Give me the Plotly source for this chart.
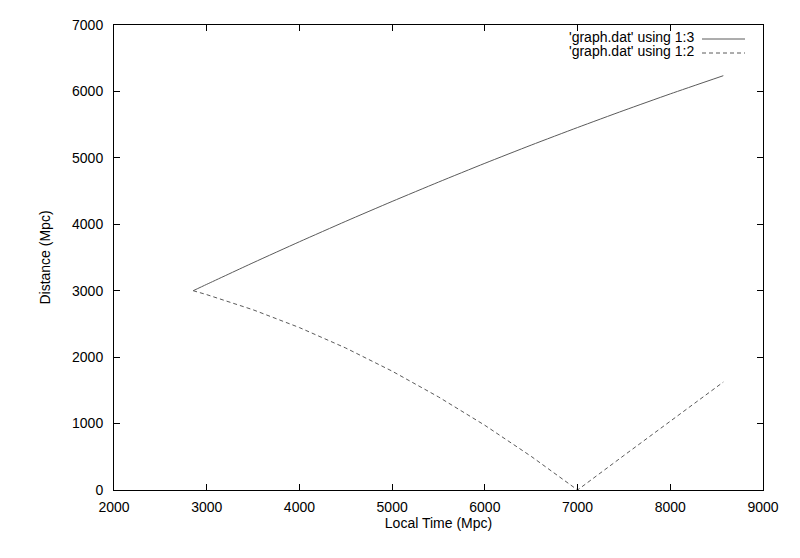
import plotly.graph_objects as go

# Local time (Mpc) sample points
local_time = [2854, 3000, 3500, 4000, 4500, 5000, 5500, 6000, 6500, 7000, 7500, 8000, 8572]
# 'graph.dat' using 1:3 (solid)
dist_col3 = [3000, 3096, 3421, 3737, 4045, 4344, 4635, 4918, 5192, 5457, 5714, 5963, 6237]
# 'graph.dat' using 1:2 (dashed)
dist_col2 = [3000, 2941, 2713, 2445, 2137, 1789, 1401, 974, 506, 0, 520, 1040, 1625]

x_ticks = [2000, 3000, 4000, 5000, 6000, 7000, 8000, 9000]
y_ticks = [0, 1000, 2000, 3000, 4000, 5000, 6000, 7000]
series_names = ["'graph.dat' using 1:3", "'graph.dat' using 1:2"]

FONT = "Liberation Sans, Arial, Helvetica, sans-serif"
LINE_COLOR = "#5a5a5a"

# page has an 8px body margin; plot area should land at x 114..763, y 25..490
L, R, T, B = 106, 45, 17, 76
PX0, PX1, PY0, PY1 = 114, 763, 25, 490

fig = go.Figure()
fig.add_trace(go.Scatter(x=local_time, y=dist_col3, mode="lines", name=series_names[0],
                         line=dict(color=LINE_COLOR, width=1, shape="spline", smoothing=0.6)))
fig.add_trace(go.Scatter(x=local_time, y=dist_col2, mode="lines", name=series_names[1],
                         line=dict(color=LINE_COLOR, width=1, dash="4px,3px")))

axis_common = dict(showgrid=False, zeroline=False, showline=True, linecolor="black", linewidth=1,
                   mirror="ticks", ticks="inside", ticklen=6, tickcolor="black", automargin=False,
                   tickfont=dict(family=FONT, size=14, color="black"))

fig.update_layout(
    width=800, height=558,
    margin=dict(l=L, r=R, t=T, b=B),
    paper_bgcolor="white", plot_bgcolor="white",
    showlegend=False,
    font=dict(family=FONT, size=14, color="black"),
    xaxis=dict(range=[2000, 9000], tickvals=x_ticks, ticktext=[str(v) for v in x_ticks],
               ticklabelstandoff=4,
               title=dict(text="Local Time (Mpc)", font=dict(family=FONT, size=14), standoff=4),
               **axis_common),
    yaxis=dict(range=[0, 7000], tickvals=y_ticks, ticktext=[str(v) for v in y_ticks],
               ticklabelstandoff=7,
               title=dict(text="Distance (Mpc)", font=dict(family=FONT, size=14), standoff=18),
               **axis_common),
)

def px_to_paper_x(px):
    return (px - PX0) / (PX1 - PX0)

def px_to_paper_y(py):
    return 1 - (py - PY0) / (PY1 - PY0)

# Legend drawn gnuplot-style: text right-aligned, sample line on the right
legend_rows = [(37, 39, None), (51, 53, "4px,3px")]
for (ty, ly, dash), name in zip(legend_rows, series_names):
    fig.add_annotation(xref="paper", yref="paper", x=px_to_paper_x(695), y=px_to_paper_y(ty),
                       text=name, showarrow=False, xanchor="right", yanchor="middle",
                       borderpad=0,
                       font=dict(family=FONT, size=14, color="black"))
    fig.add_shape(type="line", xref="paper", yref="paper",
                  x0=px_to_paper_x(702), x1=px_to_paper_x(745),
                  y0=px_to_paper_y(ly), y1=px_to_paper_y(ly),
                  line=dict(color=LINE_COLOR, width=1, dash=dash if dash else "solid"))

fig.write_html("out.html")
